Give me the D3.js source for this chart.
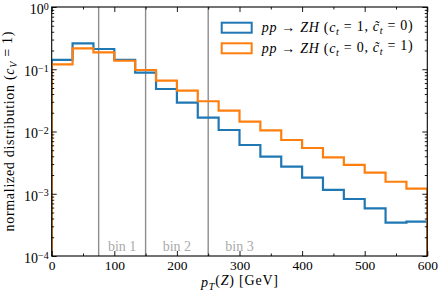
<!DOCTYPE html>
<html>
<head>
<meta charset="utf-8">
<script src="https://cdn.jsdelivr.net/npm/d3@7"></script>
<style>
  body { margin: 0; background: #fff; }
  svg text { font-family: "Liberation Serif", "DejaVu Serif", serif; }
</style>
</head>
<body>
<div id="chart"></div>
<script>
// bin edges of the pT(Z) histogram [GeV]
const binEdges = [0, 33.33, 66.67, 100, 133.33, 166.67, 200, 233.33, 266.67, 300,
  333.33, 366.67, 400, 433.33, 466.67, 500, 533.33, 566.67, 600];
// normalized distribution, ct = 1, ct~ = 0
const ctOne = [0.141, 0.261, 0.2115, 0.141, 0.088, 0.0482, 0.029, 0.01666, 0.01057,
  0.00607, 0.00394, 0.00272, 0.00181, 0.00115, 0.000823, 0.000584, 0.000343, 0.000356];
// normalized distribution, ct = 0, ct~ = 1
const ctTildeOne = [0.120, 0.217, 0.187, 0.137, 0.0973, 0.0655, 0.0452, 0.0306, 0.0216,
  0.01437, 0.01045, 0.0073, 0.00543, 0.00385, 0.0029, 0.00218, 0.00156, 0.00121];
// analysis bin boundaries and their labels
const binCuts = [75, 150, 250];
const binNames = ["bin 1", "bin 2", "bin 3"];
const binNameAt = [112.5, 200, 300];
const xTicks = [0, 100, 200, 300, 400, 500, 600];
const xMinor = [50, 150, 250, 350, 450, 550];
const yTicks = [1e-4, 1e-3, 1e-2, 1e-1, 1];

const W = 441, H = 294;
const margin = {top: 7, right: 13.7, bottom: 38, left: 51.7};
const innerW = W - margin.left - margin.right;
const innerH = H - margin.top - margin.bottom;

const blue = "#1f77b4", orange = "#ff7f0e";

const svg = d3.select("#chart").append("svg")
  .attr("width", W).attr("height", H);

const g = svg.append("g")
  .attr("transform", "translate(" + margin.left + "," + margin.top + ")");

const x = d3.scaleLinear().domain([0, 600]).range([0, innerW]);
const y = d3.scaleLog().domain([1e-4, 1]).range([innerH, 0]);

svg.append("defs").append("clipPath").attr("id", "clip")
  .append("rect").attr("width", innerW).attr("height", innerH);

// minor log ticks
let yMinor = [];
yTicks.slice(0, -1).forEach(t => {
  for (let k = 2; k <= 9; k++) yMinor.push(t * k);
});

// vertical bin separators
g.selectAll(".cut")
  .data(binCuts)
  .join("line")
  .attr("class", "cut")
  .attr("x1", d => x(d)).attr("x2", d => x(d))
  .attr("y1", 0).attr("y2", innerH)
  .attr("stroke", "#8c8c8c")
  .attr("stroke-width", 1.4);

g.selectAll(".binname")
  .data(binNames)
  .join("text")
  .attr("class", "binname")
  .attr("x", (d, i) => x(binNameAt[i]))
  .attr("y", innerH - 5)
  .attr("text-anchor", "middle")
  .attr("font-size", "14px")
  .attr("fill", "#aaaaaa")
  .text(d => d);

// step histograms
function stepPoints(vals) {
  let pts = [[binEdges[0], 1e-6]];
  vals.forEach((v, i) => pts.push([binEdges[i], v]));
  pts.push([binEdges[binEdges.length - 1], vals[vals.length - 1]]);
  pts.push([binEdges[binEdges.length - 1], 1e-6]);
  return pts;
}
const line = d3.line()
  .x(d => x(d[0]))
  .y(d => y(d[1]))
  .curve(d3.curveStepAfter);

const hists = [{vals: ctOne, color: blue}, {vals: ctTildeOne, color: orange}];
g.append("g").attr("clip-path", "url(#clip)")
  .selectAll(".hist")
  .data(hists)
  .join("path")
  .attr("class", "hist")
  .attr("d", d => line(stepPoints(d.vals)))
  .attr("fill", "none")
  .attr("stroke", d => d.color)
  .attr("stroke-width", 2.2);

// axes, ticks pointing inward on all four sides
function styleAxis(sel) {
  sel.select(".domain").remove();
  sel.selectAll(".tick line").attr("stroke", "#000").attr("stroke-width", 0.9);
}
g.append("g").attr("transform", "translate(0," + innerH + ")")
  .call(d3.axisBottom(x).tickValues(xTicks).tickSize(-5).tickPadding(4))
  .call(styleAxis)
  .selectAll("text").attr("font-size", "13.5px").attr("fill", "#000")
  .attr("font-family", "Liberation Serif");
g.append("g").attr("transform", "translate(0," + innerH + ")")
  .call(d3.axisBottom(x).tickValues(xMinor).tickSize(-2.5).tickFormat(""))
  .call(styleAxis);
g.append("g")
  .call(d3.axisTop(x).tickValues(xTicks).tickSize(-5).tickFormat(""))
  .call(styleAxis);
g.append("g")
  .call(d3.axisTop(x).tickValues(xMinor).tickSize(-2.5).tickFormat(""))
  .call(styleAxis);

const yAx = g.append("g")
  .call(d3.axisLeft(y).tickValues(yTicks).tickSize(-5).tickPadding(3))
  .call(styleAxis);
yAx.selectAll(".tick text").each(function(d) {
  const t = d3.select(this).text("")
    .attr("font-size", "14px").attr("fill", "#000").attr("dy", "0.45em");
  const e = Math.round(Math.log10(d));
  t.append("tspan").text("10");
  t.append("tspan").attr("dy", "-0.42em").attr("font-size", "10px")
    .text(e < 0 ? "\u2212" + (-e) : String(e));
});
g.append("g")
  .call(d3.axisLeft(y).tickValues(yMinor).tickSize(-2.5).tickFormat(""))
  .call(styleAxis);
g.append("g").attr("transform", "translate(" + innerW + ",0)")
  .call(d3.axisRight(y).tickValues(yTicks).tickSize(-5).tickFormat(""))
  .call(styleAxis);
g.append("g").attr("transform", "translate(" + innerW + ",0)")
  .call(d3.axisRight(y).tickValues(yMinor).tickSize(-2.5).tickFormat(""))
  .call(styleAxis);

// frame
g.append("rect")
  .attr("width", innerW).attr("height", innerH)
  .attr("fill", "none").attr("stroke", "#000").attr("stroke-width", 1.1);

// text with math-like parts: [string, style]
function richText(sel, parts) {
  parts.forEach(p => {
    const ts = sel.append("tspan").text(p[0]);
    if (p[1] === "i") ts.attr("font-style", "italic");
    if (p[1] === "sub") ts.attr("font-style", "italic").attr("font-size", "0.72em")
      .attr("dy", "0.3em");
    if (p[1] === "up") ts.attr("dy", "-0.3em");
  });
}

// legend
const legendItems = [
  {color: blue, parts: [["pp", "i"], [" \u2192 ", ""], ["ZH", "i"], [" (", ""], ["c", "i"], ["t", "sub"],
    [" = 1, ", "up"], ["c\u0303", "i"], ["t", "sub"], [" = 0)", "up"]]},
  {color: orange, parts: [["pp", "i"], [" \u2192 ", ""], ["ZH", "i"], [" (", ""], ["c", "i"], ["t", "sub"],
    [" = 0, ", "up"], ["c\u0303", "i"], ["t", "sub"], [" = 1)", "up"]]}
];
const leg = svg.selectAll(".legend")
  .data(legendItems)
  .join("g")
  .attr("class", "legend")
  .attr("transform", (d, i) => "translate(221.7," + (22.7 + i * 20.6) + ")");
leg.append("rect")
  .attr("width", 30).attr("height", 10)
  .attr("fill", "none")
  .attr("stroke", d => d.color)
  .attr("stroke-width", 2);
leg.append("text")
  .attr("x", 40).attr("y", 9.5)
  .attr("font-size", "14px")
  .attr("textLength", 151)
  .attr("lengthAdjust", "spacing")
  .each(function(d) { richText(d3.select(this), d.parts); });

// axis labels
const xl = svg.append("text")
  .attr("x", margin.left + innerW / 2).attr("y", 286.5)
  .attr("text-anchor", "middle")
  .attr("font-size", "14px")
  .attr("textLength", 77)
  .attr("lengthAdjust", "spacing");
richText(xl, [["p", "i"], ["T", "sub"], ["(", "up"], ["Z", "i"], [") [GeV]", ""]]);

const yl = svg.append("text")
  .attr("transform", "translate(13.5," + (margin.top + innerH / 2) + ") rotate(-90)")
  .attr("text-anchor", "middle")
  .attr("font-size", "14px")
  .attr("textLength", 200)
  .attr("lengthAdjust", "spacing");
richText(yl, [["normalized distribution (", ""], ["c", "i"], ["V", "sub"], [" = 1)", "up"]]);
</script>
</body>
</html>
